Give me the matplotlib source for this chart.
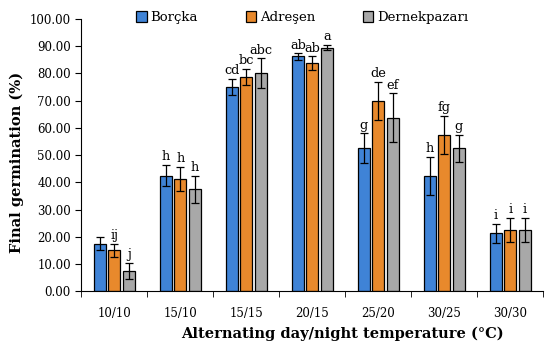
import numpy as np
import matplotlib
matplotlib.use("Agg")
import matplotlib.pyplot as plt

plt.rcParams['font.family'] = ['DejaVu Serif']

temps = ["10/10", "15/10", "15/15", "20/15", "25/20", "30/25", "30/30"]
sites = ["Borçka", "Adreşen", "Dernekpazarı"]

borcka = [17.5, 42.5, 75.0, 86.25, 52.5, 42.5, 21.25]
adresen = [15.0, 41.25, 78.75, 83.75, 70.0, 57.5, 22.5]
dernek = [7.5, 37.5, 80.0, 89.5, 63.75, 52.5, 22.5]

borcka_err = [2.5, 4.0, 3.0, 1.2, 5.5, 7.0, 3.5]
adresen_err = [2.5, 4.5, 3.0, 2.5, 7.0, 7.0, 4.5]
dernek_err = [3.0, 5.0, 5.5, 1.0, 9.0, 5.0, 4.5]

borcka_let = ["", "h", "cd", "ab", "g", "h", "i"]
adresen_let = ["ij", "h", "bc", "ab", "de", "fg", "i"]
dernek_let = ["j", "h", "abc", "a", "ef", "g", "i"]

colors = ["#3f83d6", "#e8892c", "#a8a8a8"]

fig = plt.figure(figsize=(5.5, 3.51), dpi=100)
ax = fig.add_axes([0.148, 0.17, 0.84, 0.776])

x = np.arange(len(temps))
width = 0.18
step = 0.22
series = [(borcka, borcka_err, borcka_let), (adresen, adresen_err, adresen_let),
          (dernek, dernek_err, dernek_let)]

for i, (vals, errs, lets) in enumerate(series):
    pos = x + (i - 1) * step
    ax.bar(pos, vals, width, color=colors[i], edgecolor="black", linewidth=0.9,
           label=sites[i], zorder=2)
    ax.errorbar(pos, vals, yerr=errs, fmt="none", ecolor="black", elinewidth=0.9,
                capsize=3, capthick=0.9, zorder=3)
    for p, v, e, t in zip(pos, vals, errs, lets):
        ax.text(p, v + e + 0.6, t, ha="center", va="bottom", fontsize=9.3)

ax.set_xlim(-0.5, len(temps) - 0.5)
ax.set_ylim(0, 100)
ax.set_yticks(np.arange(0, 101, 10))
ax.set_yticklabels([f"{v:.2f}" for v in np.arange(0, 101, 10)], fontsize=8.5)
ax.set_xticks(x)
ax.set_xticklabels(temps, fontsize=8.5)
ax.tick_params(axis="x", length=0, pad=11)
ax.set_xticks(np.arange(-0.5, len(temps), 1), minor=True)
ax.tick_params(axis="x", which="minor", length=4, direction="out")
ax.tick_params(axis="y", length=4, direction="out")

for s in ["top", "right"]:
    ax.spines[s].set_visible(False)

ax.set_ylabel("Final germination (%)", fontsize=10.5, fontweight="bold")
ax.yaxis.set_label_coords(-0.125, 0.475)
ax.set_xlabel("Alternating day/night temperature (°C)", fontsize=10.5,
              fontweight="bold")
ax.xaxis.set_label_coords(0.565, -0.13)

ax.legend(loc="center", bbox_to_anchor=(0.478, 1.005), ncol=3, frameon=False,
          fontsize=9.5, handlelength=0.8, handleheight=0.8, handletextpad=0.3,
          columnspacing=3.6)

fig.savefig("out.png", dpi=100)
